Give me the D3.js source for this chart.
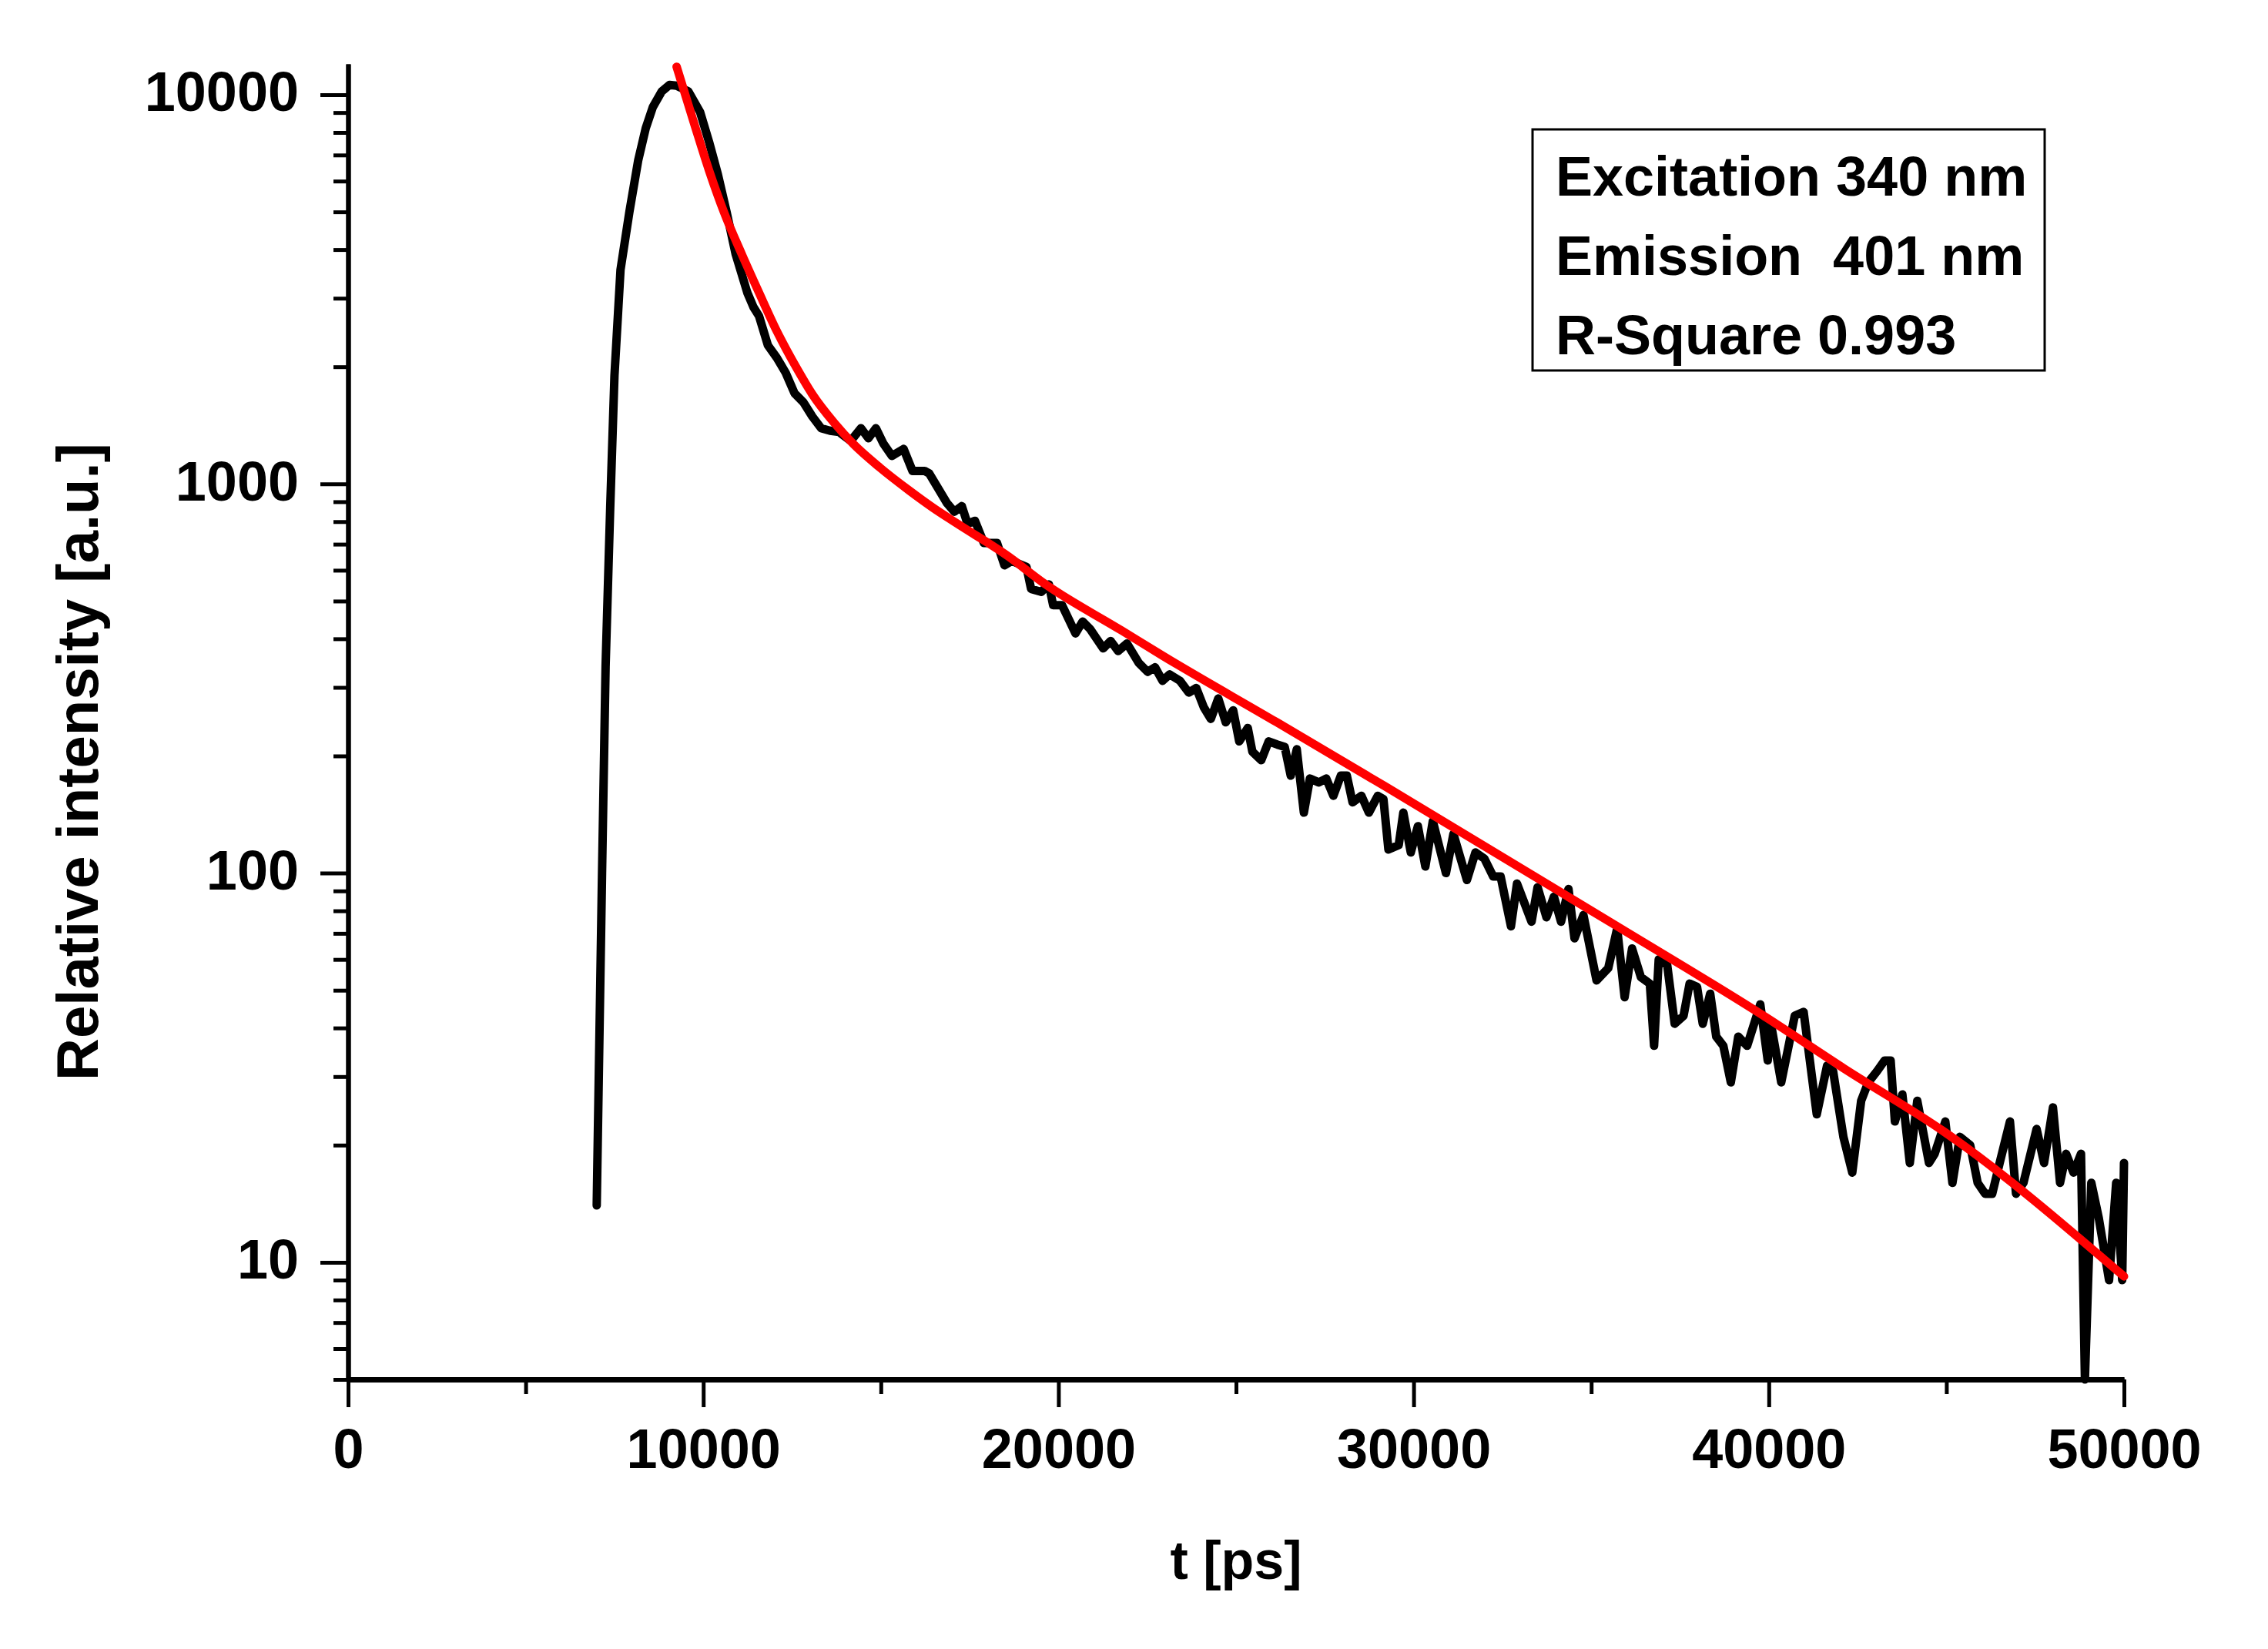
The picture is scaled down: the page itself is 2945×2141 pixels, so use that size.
<!DOCTYPE html>
<html>
<head>
<meta charset='UTF-8'>
<title>Fluorescence decay</title>
<script src='https://cdn.jsdelivr.net/npm/d3@7/dist/d3.min.js'></script>
<style>
  body {margin:0; background:#fff;}
  text {font-family:'Liberation Sans', Arial, sans-serif; font-weight:bold; fill:#000;}
  .line {fill:none; stroke-linejoin:round; stroke-linecap:round;}
</style>
</head>
<body>
<div id='chart'></div>
<script>
// measured decay (black)
var decayT = [7000, 7150, 7250, 7380, 7500, 7670, 7920, 8170, 8380, 8580, 8830, 9050, 9250,
  9580, 9910, 10160, 10410, 10660, 10910, 11240, 11410, 11570, 11820, 12070, 12320, 12570, 12820,
  13070, 13320, 13570, 13820, 14150, 14440, 14650, 14860, 15070, 15310, 15640, 15890, 16230, 16360,
  16610, 16860, 17070, 17280, 17440, 17650, 17900, 18270, 18480, 18690, 19100, 19230, 19520, 19730,
  19850, 20100, 20480, 20680, 20890, 21260, 21470, 21680, 21930, 22260, 22510, 22720, 22930, 23130,
  23420, 23670, 23880, 24090, 24290, 24500, 24710, 24920, 25090, 25330, 25460, 25710, 25920, 26160,
  26370, 26540, 26710, 26910, 27080, 27330, 27540, 27740, 27950, 28120, 28280, 28530, 28740, 28990,
  29150, 29290, 29580, 29710, 29920, 30120, 30330, 30540, 30910, 31120, 31500, 31740, 31990, 32240,
  32450, 32740, 32910, 33320, 33490, 33740, 33950, 34150, 34360, 34530, 34780, 35150, 35480, 35730,
  35940, 36150, 36400, 36650, 36770, 36900, 37140, 37350, 37600, 37770, 37980, 38140, 38350, 38520,
  38720, 38930, 39140, 39390, 39760, 39970, 40060, 40350, 40730, 40980, 41350, 41640, 41810, 42100,
  42350, 42600, 42800, 43050, 43260, 43430, 43550, 43760, 43970, 44180, 44510, 44670, 44970, 45170,
  45380, 45670, 45880, 46090, 46290, 46500, 46790, 46960, 47170, 47540, 47750, 48000, 48200, 48370,
  48580, 48790, 48900, 49080, 49290, 49580, 49780, 49950, 50000];
var decayCounts = [14, 100, 340, 870, 1900, 3550, 5000, 6800, 8200, 9300, 10200, 10600, 10550,
  10200, 9030, 7580, 6250, 4980, 3900, 3100, 2850, 2700, 2270, 2110, 1930, 1710, 1620,
  1490, 1390, 1370, 1360, 1290, 1390, 1310, 1390, 1270, 1180, 1230, 1080, 1080, 1064,
  975, 893, 848, 877, 790, 804, 705, 705, 618, 634, 612, 537, 528, 552,
  488, 488, 413, 443, 424, 378, 395, 372, 389, 347, 329, 338, 312, 324,
  312, 291, 299, 267, 249, 281, 244, 262, 218, 236, 205, 195, 218, 214,
  211, 178, 208, 143, 175, 171, 175, 158, 178, 178, 152, 158, 143, 158,
  155, 115, 118, 143, 113, 132, 104, 136, 100, 126, 96, 113, 109, 98,
  98, 73, 94, 75, 92, 77, 87, 75, 91, 68, 78, 53, 57, 72,
  48, 64, 54, 52, 36, 60, 58, 41, 43, 52, 51, 41, 49, 38,
  36, 29, 38, 36, 46, 33, 41, 29, 43, 44, 24, 32, 31, 21,
  17, 26, 29, 31, 33, 33, 23, 27, 18, 26, 18, 19, 23, 16,
  21, 20, 16, 15, 15, 18, 23, 15, 16, 22, 18, 25, 16, 19,
  17, 19, 5, 16, 13, 9, 16, 9, 18];

// fit curve (red)
var fitT = [9250, 9750, 10160, 10580, 11080, 11570, 12070, 12650, 13070, 13700, 14230, 14980,
  15810, 16480, 17110, 18600, 19600, 21780, 22930, 26150, 29200, 35730, 39940, 42110, 44920, 50000];
var fitCounts = [11800, 8400, 6400, 5000, 3900, 3100, 2470, 1970, 1700, 1430, 1265, 1100,
  960, 867, 795, 650, 555, 420, 362, 244, 167, 73, 42.5, 31.5, 21.7, 9.2];

var yMajorTicks = [10, 100, 1000, 10000];
var yMinorTicks = [5, 6, 7, 8, 9, 20, 30, 40, 50, 60, 70, 80, 90, 200, 300, 400, 500, 600, 700, 800, 900,
  2000, 3000, 4000, 5000, 6000, 7000, 8000, 9000];
var xMajorTicks = [0, 10000, 20000, 30000, 40000, 50000];
var xMinorTicks = [5000, 15000, 25000, 35000, 45000];
var legendLines = ['Excitation 340 nm', 'Emission  401 nm', 'R-Square 0.993'];

var width = 2945;
var height = 2141;
var plotLeft = 452, plotRight = 2758, plotTop = 83, plotBottom = 1791;

var svg = d3.select('#chart').append('svg')
  .attr('width', width)
  .attr('height', height);

svg.append('rect').attr('width', width).attr('height', height).attr('fill', '#fff');

var x = d3.scaleLinear().domain([0, 50000]).range([plotLeft, plotRight]);
var y = d3.scaleLog().domain([5, 12000]).range([plotBottom, plotTop]);

/* axes */
function styleAxis(g, size) {
  g.selectAll('path.domain').attr('stroke', '#000').attr('stroke-width', 6);
  g.selectAll('.tick line').attr('stroke', '#000').attr('stroke-width', 5);
  g.selectAll('.tick text').style('font-size', size + 'px')
    .style('font-family', "'Liberation Sans', Arial, sans-serif").style('font-weight', 'bold');
}

svg.append('g')
  .attr('transform', `translate(0, ${plotBottom})`)
  .call(d3.axisBottom(x).tickValues(xMinorTicks).tickSize(19).tickFormat('').tickSizeOuter(0))
  .call(g => styleAxis(g, 72));

svg.append('g')
  .attr('transform', `translate(0, ${plotBottom})`)
  .call(d3.axisBottom(x).tickValues(xMajorTicks).tickSize(36).tickPadding(28).tickFormat(d3.format('d')).tickSizeOuter(0))
  .call(g => styleAxis(g, 72))
  .call(g => g.select('path.domain').attr('stroke-width', 7));

svg.append('g')
  .attr('transform', `translate(${plotLeft}, 0)`)
  .call(d3.axisLeft(y).tickValues(yMinorTicks).tickSize(19).tickFormat('').tickSizeOuter(0))
  .call(g => styleAxis(g, 72));

svg.append('g')
  .attr('transform', `translate(${plotLeft}, 0)`)
  .call(d3.axisLeft(y).tickValues(yMajorTicks).tickSize(36).tickPadding(28).tickFormat(d3.format('d')).tickSizeOuter(0))
  .call(g => styleAxis(g, 72))
  .call(g => g.selectAll('.tick text').attr('dy', '0.29em'));

/* lines */
var decay = decayT.map((t, i) => ({t: t, v: decayCounts[i]}));
var fit = fitT.map((t, i) => ({t: t, v: fitCounts[i]}));

var line = d3.line()
  .x(d => x(d.t))
  .y(d => y(d.v));

svg.append('path')
  .attr('class', 'line')
  .attr('d', line(decay))
  .attr('stroke', '#000')
  .attr('stroke-width', 11);

svg.append('path')
  .attr('class', 'line')
  .attr('d', line.curve(d3.curveMonotoneX)(fit))
  .attr('stroke', '#ff0000')
  .attr('stroke-width', 11);

/* axis titles */
svg.append('text')
  .attr('x', (plotLeft + plotRight) / 2)
  .attr('y', 2050)
  .attr('text-anchor', 'middle')
  .style('font-size', '70px')
  .text('t [ps]');

svg.append('text')
  .attr('transform', 'translate(127, 989) rotate(-90)')
  .attr('text-anchor', 'middle')
  .style('font-size', '76px')
  .text('Relative intensity [a.u.]');

/* info box */
svg.append('rect')
  .attr('x', 1990).attr('y', 168)
  .attr('width', 665).attr('height', 313)
  .attr('fill', '#fff')
  .attr('stroke', '#000')
  .attr('stroke-width', 3);

svg.selectAll('.info')
  .data(legendLines).enter()
  .append('text')
  .attr('class', 'info')
  .attr('x', 2020)
  .attr('y', (d, i) => 254 + i * 103)
  .style('font-size', '72px')
  .style('white-space', 'pre')
  .text(d => d);
</script>
</body>
</html>
